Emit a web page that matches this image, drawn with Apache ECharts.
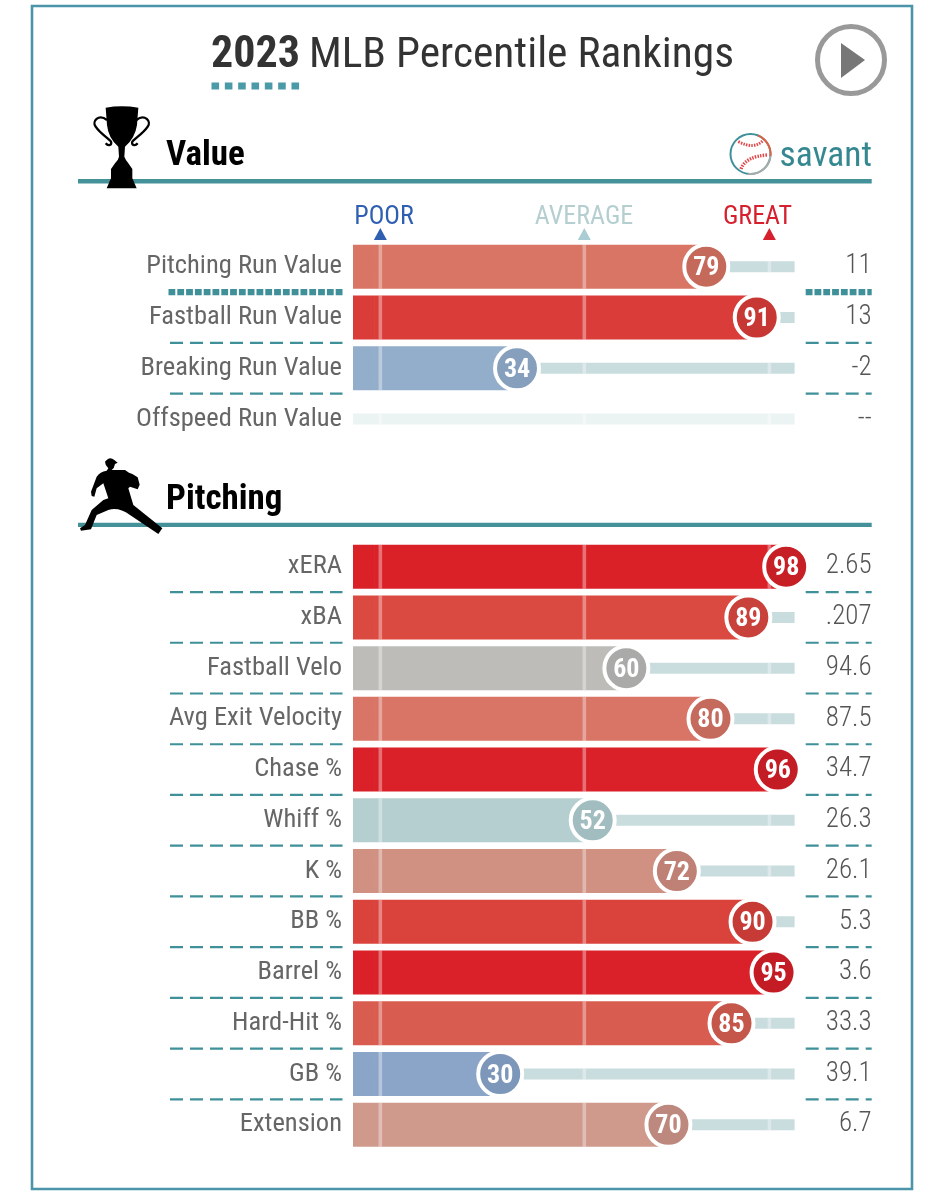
<!DOCTYPE html>
<html><head><meta charset="utf-8"><style>html,body{margin:0;background:#fff}#c{width:944px;height:1200px}</style></head>
<body><div id="c"></div>
<script src="https://cdn.jsdelivr.net/npm/echarts@6/dist/echarts.min.js"></script>
<script>
const valueLabels=['Pitching Run Value','Fastball Run Value','Breaking Run Value','Offspeed Run Value'];
const valuePercentiles=[79,91,34,null];
const valueStats=['11','13','-2','--'];
const pitchingLabels=['xERA','xBA','Fastball Velo','Avg Exit Velocity','Chase %','Whiff %','K %','BB %','Barrel %','Hard-Hit %','GB %','Extension'];
const pitchingPercentiles=[98,89,60,80,96,52,72,90,95,85,30,70];
const pitchingStats=['2.65','.207','94.6','87.5','34.7','26.3','26.1','5.3','3.6','33.3','39.1','6.7'];
const referenceMarks=[1.5,50,94];
const referenceNames=['POOR','AVERAGE','GREAT'];
const referenceColors=['#2f5fb0','#b5cfd1','#d6202d'];
const axisMin=-5, axisMax=100;
const valueBarColors=['#d87565','#da3d39','#93aeca',null];
const valueDotColors=['#c56a5b','#c73733','#859fbd',null];
const pitchingBarColors=['#da2128','#db4a41','#bdbcb8','#d87566','#da2028','#b5cfd1','#d09182','#da423c','#da2028','#d85d50','#8aa5c8','#cf9a8c'];
const pitchingDotColors=['#c61f26','#c8413a','#aaaaa8','#c56b5d','#c41c24','#a1bdc0','#bf8075','#c63b36','#c41c24','#c5564a','#7c97ba','#bd887d'];

const FONT='"Roboto Condensed"', TEAL='#3f9099';
const chart=echarts.init(document.getElementById('c'));
const LEFT=353, WIDTH=441.6;
const grids=[{left:LEFT,width:WIDTH,top:241.3,height:203.2},{left:LEFT,width:WIDTH,top:541.3,height:608.8}];
const yBase={type:'category',inverse:true,axisLine:{show:false},axisTick:{show:false},splitLine:{show:false}};
const labelBase={fontFamily:FONT,hideOverlap:false,interval:0,padding:[4,0,0,0]};
const yAxis=[];
const series=[];

function sepShape(x1,x2,y,thick){
  return {type:'line',shape:{x1,y1:y,x2,y2:y},style:{stroke:TEAL,lineWidth:thick?6.2:2.2,lineDash:thick?[6.8,2]:[13,7]}};
}
function block(g,labels,pcts,stats,barColors,dotColors,firstThick){
  yAxis.push(Object.assign({},yBase,{gridIndex:g,data:labels,position:'left',axisLabel:Object.assign({},labelBase,{margin:11,fontSize:26.5,color:'#666'})}));
  yAxis.push(Object.assign({},yBase,{gridIndex:g,data:stats,position:'right',axisLabel:Object.assign({},labelBase,{margin:77,align:'right',fontSize:27,fontWeight:300,color:'#555'})}));
  const yi=g*2, common={xAxisIndex:g,yAxisIndex:yi};
  series.push(Object.assign({},common,{type:'custom',name:'track'+g,z:1,silent:true,
    data:labels.map((l,i)=>[axisMin,i,axisMax,pcts[i]===null?1:0]),encode:{x:[0,2],y:1},
    renderItem(p,api){
      const a=api.coord([api.value(0),api.value(1)]),b=api.coord([api.value(2),api.value(1)]);
      return {type:'rect',shape:{x:a[0],y:a[1]-5.5,width:b[0]-a[0],height:11},style:{fill:api.value(3)?'#ecf3f3':'#c9dcde'}};
    }}));
  series.push(Object.assign({},common,{type:'bar',name:'percentile'+g,z:2,barWidth:44,barGap:'-100%',silent:true,
    data:pcts.map((v,i)=>({value:v,itemStyle:{color:barColors[i]}}))}));
  series.push(Object.assign({},common,{type:'bar',name:'lead'+g,z:2,barWidth:44,barGap:'-100%',silent:true,
    data:pcts.map((v,i)=>({value:v===null?null:axisMin,itemStyle:{color:barColors[i]}}))}));
  const tickData=[];
  labels.forEach((l,i)=>referenceMarks.forEach(m=>tickData.push([m,i,pcts[i]!==null&&pcts[i]>m?1:0])));
  series.push(Object.assign({},common,{type:'custom',name:'ticks'+g,z:3,silent:true,data:tickData,encode:{x:0,y:1},
    renderItem(p,api){
      const a=api.coord([api.value(0),api.value(1)]),h=api.value(2)?44:11;
      return {type:'rect',shape:{x:a[0]-1.8,y:a[1]-h/2,width:3.6,height:h},style:{fill:'rgba(255,255,255,0.36)'}};
    }}));
  series.push(Object.assign({},common,{type:'custom',name:'separators'+g,z:1,silent:true,clip:false,
    data:labels.slice(0,-1).map((l,i)=>[i,i+1]),encode:{y:[0,1]},
    renderItem(p,api){
      const i=api.value(0),a=api.coord([0,i]),b=api.coord([0,i+1]),y=(a[1]+b[1])/2;
      const thick=firstThick&&i===0;
      return {type:'group',children:[sepShape(thick?168.5:170,342.5,y,thick),sepShape(805.7,871.7,y,thick)]};
    }}));
  series.push(Object.assign({},common,{type:'scatter',name:'dots'+g,z:4,silent:true,symbolSize:44,
    data:pcts.map((v,i)=>v===null?null:({value:[v,i],itemStyle:{color:dotColors[i],opacity:1,borderColor:'#fff',borderWidth:4}})).filter(Boolean),
    label:{show:true,position:'inside',offset:[0,2],formatter:d=>d.value[0],color:'#fff',fontFamily:FONT,fontWeight:'bold',fontSize:26}}));
}
block(0,valueLabels,valuePercentiles,valueStats,valueBarColors,valueDotColors,true);
block(1,pitchingLabels,pitchingPercentiles,pitchingStats,pitchingBarColors,pitchingDotColors,false);

chart.setOption({
  animation:false,backgroundColor:'#fff',
  title:{left:206,top:29,text:'{a|2023} {b|MLB Percentile Rankings}',
    textStyle:{rich:{a:{fontFamily:FONT,fontWeight:'bold',fontSize:44,color:'#333',padding:[0,4,0,0]},b:{fontFamily:FONT,fontWeight:'normal',fontSize:43.4,color:'#333'}}}},
  grid:grids,
  xAxis:grids.map((g,i)=>({type:'value',gridIndex:i,min:axisMin,max:axisMax,show:false})),
  yAxis,series
});

const px=v=>chart.convertToPixel({xAxisIndex:0},v);
const shapes={
  trophyCup:'M92 38Q140 30 190 38L186 90Q180 130 150 155L148 185Q152 195 160 205L172 222L172 250L185 280L95 280L108 250L108 222L120 205Q130 195 132 185L130 155Q100 130 96 90Z',
  trophyL:'M96 75C70 55 50 80 62 95C75 115 100 130 108 140C112 150 100 155 92 145',
  trophyR:'M184 75C210 55 230 80 218 95C205 115 180 130 172 140C168 150 180 155 188 145',
  pitcherFig:'M95 30Q105 20 118 30L128 38L120 42Q118 55 110 60L150 60L162 68L172 72L188 82L194 104L188 118L165 110L160 115L175 165L262 235L250 252L165 195Q130 170 100 180L65 195L48 238L18 242L15 235L30 225L50 180L85 150L100 145L85 100L65 115L58 140L50 138L48 125L65 80Q75 65 95 62L100 55Q90 45 90 35Z',
  seamTop:'M738.3 141.7Q755 150 763.3 140',
  seamLow:'M741 169Q746 156 768 155'
};
Object.keys(shapes).forEach(k=>echarts.graphic.registerShape(k,echarts.graphic.extendPath(shapes[k],{})));
const txt=(text,x,y,font,fill,align)=>({type:'text',x,y,style:{text,font,fill,textAlign:align||'left',textVerticalAlign:'middle'}});
const rule=(x,y,w,h,fill)=>({type:'rect',shape:{x,y,width:w,height:h},style:{fill}});
const graphic=[
  {type:'rect',z:0,shape:{x:32,y:6,width:880,height:1183},style:{fill:'none',stroke:'#4a95a9',lineWidth:2.6}},
  {type:'line',shape:{x1:211.5,y1:86,x2:299.5,y2:86},style:{stroke:'#4b9aa8',lineWidth:7,lineDash:[7.6,5.73]}},
  {type:'circle',shape:{cx:851,cy:60,r:33.5},style:{fill:'none',stroke:'#999',lineWidth:5}},
  {type:'polygon',shape:{points:[[841,43],[865,60],[841,78]]},style:{fill:'#777'}},
  rule(78,179,793.7,4.4,'#44919a'),
  rule(78,522.7,793.7,4.4,'#44919a'),
  {type:'group',x:75,y:95,scaleX:1/3,scaleY:1/3,children:[
    {type:'trophyCup',style:{fill:'#000'}},
    {type:'trophyL',style:{fill:'none',stroke:'#000',lineWidth:7}},
    {type:'trophyR',style:{fill:'none',stroke:'#000',lineWidth:7}}
  ]},
  {type:'group',x:75,y:450,scaleX:1/3,scaleY:1/3,children:[{type:'pitcherFig',style:{fill:'#000'}}]},
  txt('Value',166,156,'bold 35px '+FONT,'#000'),
  txt('Pitching',166,500,'bold 35px '+FONT,'#000'),
  txt('savant',779.5,157.5,'35.5px '+FONT,'#35888f'),
  {type:'circle',shape:{cx:750.5,cy:154,r:20},style:{fill:'#fff',stroke:'#3f9099',lineWidth:2}},
  {type:'arc',shape:{cx:750.5,cy:154,r:20,startAngle:-1.2,endAngle:0.1},style:{fill:'none',stroke:'#e0603f',lineWidth:2}},
  {type:'arc',shape:{cx:750.5,cy:154,r:20,startAngle:0.1,endAngle:1.7},style:{fill:'none',stroke:'#aaa',lineWidth:2}},
  {type:'seamTop',style:{fill:'none',stroke:'#e2474a',lineWidth:3,lineDash:[1.5,1.2]}},
  {type:'seamLow',style:{fill:'none',stroke:'#e2474a',lineWidth:3.4,lineDash:[1.5,1.2]}}
];
const refLabelX=[384,584,757.5];
referenceMarks.forEach((m,i)=>{
  const x=px(m);
  graphic.push(txt(referenceNames[i],refLabelX[i],217,'26px '+FONT,referenceColors[i],'center'));
  graphic.push({type:'polygon',shape:{points:[[x-6.5,240],[x,228],[x+6.5,240]]},style:{fill:i===1?'#a9cdd2':referenceColors[i]}});
});
chart.setOption({graphic});
</script></body></html>
